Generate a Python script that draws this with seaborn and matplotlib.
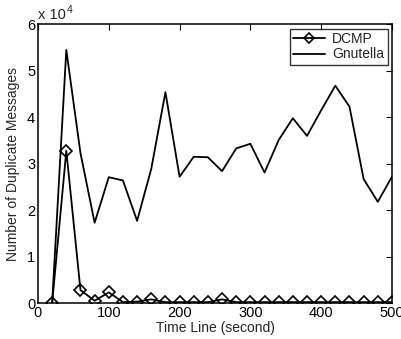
import numpy as np
import pandas as pd
import matplotlib
matplotlib.use("Agg")
import matplotlib.pyplot as plt
from matplotlib.ticker import FuncFormatter
import seaborn as sns

# datos
tiempo = [20, 40, 60, 80, 100, 120, 140, 160, 180, 200, 220, 240, 260,
          280, 300, 320, 340, 360, 380, 400, 420, 440, 460, 480, 500]
gnutella = [0, 54500, 32300, 17300, 27100, 26400, 17700, 28900, 45400,
            27200, 31500, 31400, 28400, 33300, 34300, 28100, 35100, 39800,
            36000, 41500, 46800, 42300, 26700, 21800, 27200]
dcmp = [0, 32800, 2800, 500, 2300, 200, 300, 800, 200, 200, 200, 200,
        800, 200, 200, 200, 200, 200, 200, 200, 200, 200, 200, 200, 200]

df = pd.DataFrame({
    'Tiempo': tiempo * 2,
    'Mensajes': dcmp + gnutella,
    'Protocolo': ['DCMP'] * len(tiempo) + ['Gnutella'] * len(tiempo),
})

sns.set_style("white")
plt.rcParams['font.family'] = ['Liberation Sans', 'DejaVu Sans']
plt.rcParams['font.size'] = 10

fig = plt.figure(figsize=(4.02, 3.39), dpi=100)
ax = fig.add_axes([0.0945, 0.106, 0.8805, 0.822])

sns.lineplot(data=df[df['Protocolo'] == 'DCMP'], x='Tiempo', y='Mensajes',
             ax=ax, color='black', lw=1.3, marker='D', markersize=6,
             markerfacecolor='none', markeredgecolor='black',
             markeredgewidth=1.2, label='DCMP')
sns.lineplot(data=df[df['Protocolo'] == 'Gnutella'], x='Tiempo', y='Mensajes',
             ax=ax, color='black', lw=1.3, label='Gnutella')

ax.set_xlim(0, 500)
ax.set_ylim(0, 60000)
ax.set_xticks([0, 100, 200, 300, 400, 500])
ax.set_yticks(np.arange(0, 60001, 10000))
ax.yaxis.set_major_formatter(FuncFormatter(lambda v, p: f'{v / 1e4:g}'))
ax.tick_params(direction='in', top=True, right=True, length=4, width=0.8,
               labelsize=10.5, pad=2, colors='black')
for s in ax.spines.values():
    s.set_color('black')
    s.set_linewidth(1.1)

ax.set_xlabel('Time Line (second)', fontsize=10, labelpad=1)
ax.set_ylabel('Number of Duplicate Messages', fontsize=10, labelpad=5)
ax.text(0.0, 1.008, 'x 10', transform=ax.transAxes, fontsize=10.5,
        ha='left', va='bottom')
ax.text(0.082, 1.035, '4', transform=ax.transAxes, fontsize=7.5,
        ha='left', va='bottom')

leg = ax.legend(loc='upper right', fontsize=10, frameon=True, fancybox=False,
                edgecolor='black', handlelength=2.3, handletextpad=0.5,
                borderaxespad=0.3, borderpad=0.25, labelspacing=0.1,
                markerscale=0.8)
leg.get_frame().set_linewidth(1.0)

plt.savefig('out.png', dpi=100)
